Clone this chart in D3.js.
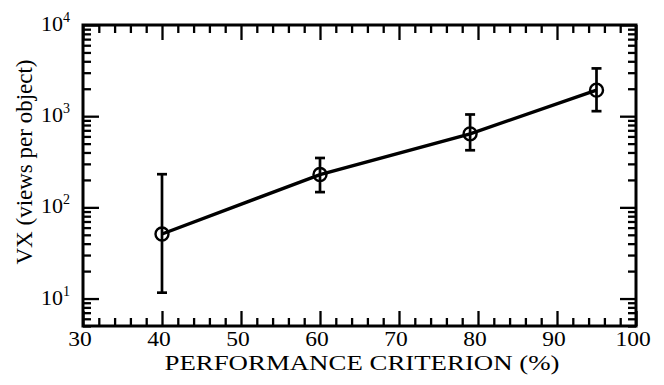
<!DOCTYPE html>
<html>
<head>
<meta charset="utf-8">
<script src="https://cdn.jsdelivr.net/npm/d3@7"></script>
<style>
  html, body { margin: 0; padding: 0; background: #fff; }
  svg { display: block; }
  text { font-family: "Liberation Serif", "Times New Roman", serif; fill: #000; }
</style>
</head>
<body>
<svg id="chart" width="664" height="385"></svg>
<script>
// Performance criterion (%) vs. views per object, with error bars
const criterion = [40, 60, 79, 95];
const viewsMean = [51, 229, 640, 1930];
const viewsLow  = [11.6, 147, 423, 1135];
const viewsHigh = [231, 348, 1044, 3342];

const xMajorTicks = [30, 40, 50, 60, 70, 80, 90, 100];
const yDecadeExps = [1, 2, 3, 4];

const W = 664, H = 385;
const margin = { top: 25, right: 28, bottom: 59, left: 83 };

const svg = d3.select("#chart");

const x = d3.scaleLinear().domain([30, 100]).range([margin.left, W - margin.right]);
const y = d3.scaleLog().domain([5, 10000]).range([H - margin.bottom, margin.top]);

const x0 = x.range()[0], x1 = x.range()[1];
const y0 = y.range()[0], y1 = y.range()[1];

// minor ticks: every 2 % on x, 2..9 within each decade on y
const xMinorTicks = d3.range(30, 101, 2).filter(v => v % 10 !== 0);
const yMinorTicks = [];
for (let e = 0; e <= 3; e++) {
  for (let m = 2; m <= 9; m++) {
    const v = m * Math.pow(10, e);
    if (v >= 5 && v <= 10000) yMinorTicks.push(v);
  }
}
const yMajorTicks = yDecadeExps.map(e => Math.pow(10, e));

const MAJ = 15, MIN = 8;

function styleAxis(g) {
  g.select(".domain").remove();
  g.selectAll(".tick line").attr("stroke", "#000").attr("stroke-width", 2.3);
  g.selectAll(".tick text").remove();
}

// inward-pointing ticks on all four sides
svg.append("g").attr("transform", `translate(0,${y0})`)
  .call(d3.axisBottom(x).tickValues(xMajorTicks).tickSize(-MAJ).tickSizeOuter(0)).call(styleAxis);
svg.append("g").attr("transform", `translate(0,${y0})`)
  .call(d3.axisBottom(x).tickValues(xMinorTicks).tickSize(-MIN).tickSizeOuter(0)).call(styleAxis);
svg.append("g").attr("transform", `translate(0,${y1})`)
  .call(d3.axisTop(x).tickValues(xMajorTicks).tickSize(-MAJ).tickSizeOuter(0)).call(styleAxis);
svg.append("g").attr("transform", `translate(0,${y1})`)
  .call(d3.axisTop(x).tickValues(xMinorTicks).tickSize(-MIN).tickSizeOuter(0)).call(styleAxis);
svg.append("g").attr("transform", `translate(${x0},0)`)
  .call(d3.axisLeft(y).tickValues(yMajorTicks).tickSize(-MAJ - 1).tickSizeOuter(0)).call(styleAxis);
svg.append("g").attr("transform", `translate(${x0},0)`)
  .call(d3.axisLeft(y).tickValues(yMinorTicks).tickSize(-MIN).tickSizeOuter(0)).call(styleAxis);
svg.append("g").attr("transform", `translate(${x1},0)`)
  .call(d3.axisRight(y).tickValues(yMajorTicks).tickSize(-MAJ - 1).tickSizeOuter(0)).call(styleAxis);
svg.append("g").attr("transform", `translate(${x1},0)`)
  .call(d3.axisRight(y).tickValues(yMinorTicks).tickSize(-MIN).tickSizeOuter(0)).call(styleAxis);

// plot frame
svg.append("rect")
  .attr("x", x0).attr("y", y1)
  .attr("width", x1 - x0).attr("height", y0 - y1)
  .attr("fill", "none").attr("stroke", "#000").attr("stroke-width", 3);

// x tick labels (slightly wide set type)
svg.append("g").selectAll("text").data(xMajorTicks).join("text")
  .attr("transform", d => `translate(${x(d) - 3},${y0 + 20}) scale(1.12,1)`)
  .attr("text-anchor", "middle")
  .style("font-size", "21px")
  .text(d => d);

// y tick labels as powers of ten
const yLab = svg.append("g").selectAll("text").data(yDecadeExps).join("text")
  .attr("x", x0 - 13)
  .attr("y", e => y(Math.pow(10, e)) + 6)
  .attr("text-anchor", "end")
  .style("font-size", "22px");
yLab.append("tspan").text("10");
yLab.append("tspan").attr("dy", -9).style("font-size", "14px").text(e => e);

// axis titles
svg.append("text")
  .attr("x", 362)
  .attr("y", 370)
  .attr("text-anchor", "middle")
  .attr("textLength", 395)
  .attr("lengthAdjust", "spacingAndGlyphs")
  .style("font-size", "21px")
  .text("PERFORMANCE CRITERION (%)");

svg.append("text")
  .attr("transform", `translate(32,162) rotate(-90)`)
  .attr("text-anchor", "middle")
  .style("font-size", "23px")
  .text("VX (views per object)");

// data
const pts = criterion.map((c, i) => ({ c, m: viewsMean[i], lo: viewsLow[i], hi: viewsHigh[i] }));

const line = d3.line().x(d => x(d.c)).y(d => y(d.m));
svg.append("path")
  .datum(pts)
  .attr("d", line)
  .attr("fill", "none")
  .attr("stroke", "#000")
  .attr("stroke-width", 3.4);

const cap = 5;
const eb = svg.append("g").attr("stroke", "#000").attr("stroke-width", 2.7);
eb.selectAll(".stem").data(pts).join("line")
  .attr("x1", d => x(d.c)).attr("x2", d => x(d.c))
  .attr("y1", d => y(d.lo)).attr("y2", d => y(d.hi));
eb.selectAll(".capHi").data(pts).join("line")
  .attr("x1", d => x(d.c) - cap).attr("x2", d => x(d.c) + cap)
  .attr("y1", d => y(d.hi)).attr("y2", d => y(d.hi));
eb.selectAll(".capLo").data(pts).join("line")
  .attr("x1", d => x(d.c) - cap).attr("x2", d => x(d.c) + cap)
  .attr("y1", d => y(d.lo)).attr("y2", d => y(d.lo));

svg.append("g").selectAll("circle").data(pts).join("circle")
  .attr("cx", d => x(d.c)).attr("cy", d => y(d.m))
  .attr("r", 6.5)
  .attr("fill", "none")
  .attr("stroke", "#000")
  .attr("stroke-width", 2.4);
</script>
</body>
</html>
